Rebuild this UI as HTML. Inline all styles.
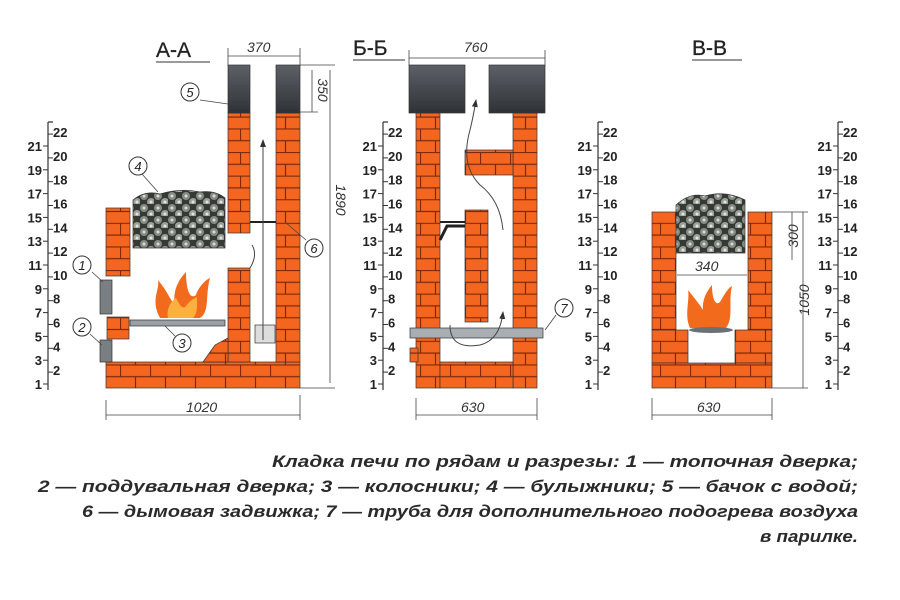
<!DOCTYPE html>
<html><head><meta charset="utf-8"><style>
html,body{margin:0;padding:0;background:#fff;width:900px;height:600px;overflow:hidden}
svg{display:block}
.n{font-family:"Liberation Sans Narrow","Liberation Sans",sans-serif;font-weight:bold;font-size:13px;fill:#222}
.d{font-family:"Liberation Sans",sans-serif;font-style:italic;font-size:14px;fill:#333}
.t{font-family:"Liberation Sans",sans-serif;font-size:21px;fill:#222;stroke:#222;stroke-width:0.3}
.c{font-family:"Liberation Sans Narrow","Liberation Sans",sans-serif;font-weight:bold;font-style:italic;font-size:17px;fill:#2a2a2a}
.l{font-family:"Liberation Sans",sans-serif;font-style:italic;font-size:13px;fill:#222}
</style></head><body>
<svg id="s" width="900" height="600" viewBox="0 0 900 600" xmlns="http://www.w3.org/2000/svg">
<defs>
<pattern id="br" width="30" height="23.6" patternUnits="userSpaceOnUse" patternTransform="translate(0,388)">
<rect width="30" height="23.6" fill="#f4661f"/>
<path d="M0 0.5H30M0 12.3H30M0.5 0V11.8M15.5 11.8V23.6" stroke="#7d2a0c" stroke-width="1.2"/>
</pattern>
<pattern id="st" width="14" height="12" patternUnits="userSpaceOnUse">
<rect width="14" height="12" fill="#353b34"/>
<circle cx="4" cy="4" r="4" fill="#858c83"/><circle cx="11" cy="10" r="4" fill="#9aa098"/>
<circle cx="4" cy="4" r="1.5" fill="#d8dcd6"/><circle cx="11" cy="10" r="1.5" fill="#e0e3de"/>
</pattern>
<linearGradient id="tk" x1="0" y1="0" x2="0" y2="1"><stop offset="0" stop-color="#5d6168"/><stop offset="1" stop-color="#2f3236"/></linearGradient>
<marker id="ar" markerWidth="8" markerHeight="8" refX="7" refY="4" orient="auto"><path d="M0 1L8 4L0 7z" fill="#333"/></marker>
</defs>
<g stroke="#333" stroke-width="0.7">
<rect x="106" y="208" width="24" height="68" fill="url(#br)"/>
<rect x="107" y="317" width="22" height="22" fill="url(#br)"/>
<rect x="106" y="362" width="194" height="26" fill="url(#br)"/>
<rect x="228" y="268" width="22" height="94" fill="url(#br)"/>
<path d="M203 362L215 345L228 338V362Z" fill="url(#br)"/>
<rect x="228" y="113" width="22" height="120" fill="url(#br)"/>
<rect x="276" y="113" width="24" height="249" fill="url(#br)"/>
<rect x="228" y="65" width="22" height="48" fill="url(#tk)"/>
<rect x="276" y="65" width="24" height="48" fill="url(#tk)"/>
<rect x="100" y="280" width="12" height="34" fill="#7a7f84"/>
<rect x="100" y="340" width="12" height="22" fill="#7a7f84"/>
<path d="M133 200Q145 190 160 194Q180 188 200 192Q215 190 225 198V248H133Z" fill="url(#st)"/>
<rect x="130" y="320" width="95" height="6" fill="#9aa0a6"/>
<rect x="255" y="325" width="20" height="18" fill="#ddd"/>
</g>
<path d="M250 222H276" stroke="#222" stroke-width="2"/>
<path d="M160 318C150 300 160 290 158 280C168 292 170 300 175 305C172 290 180 278 186 272C186 290 190 300 196 295C198 288 205 280 210 278C205 295 210 312 200 318Z" fill="#f26a1b"/>
<path d="M168 318C166 308 172 300 176 298C180 305 182 310 186 306C190 300 195 298 197 297C197 305 198 313 193 318Z" fill="#fbb040"/>
<path d="M263 340V140" stroke="#444" stroke-width="1" marker-end="url(#ar)" fill="none"/>
<path d="M250 268Q258 255 252 245" stroke="#444" fill="none"/>
<g stroke="#333" stroke-width="0.7">
<rect x="416" y="113" width="24" height="275" fill="url(#br)"/>
<rect x="410" y="348" width="8" height="14" fill="url(#br)"/>
<rect x="513" y="113" width="24" height="275" fill="url(#br)"/>
<rect x="465" y="150" width="48" height="25" fill="url(#br)"/>
<rect x="465" y="210" width="23" height="112" fill="url(#br)"/>
<rect x="440" y="362" width="73" height="26" fill="url(#br)"/>
<rect x="409" y="65" width="56" height="48" fill="url(#tk)"/>
<rect x="489" y="65" width="56" height="48" fill="url(#tk)"/>
<rect x="410" y="328" width="133" height="10" fill="#a9aeb2"/>
</g>
<path d="M440 222H465" stroke="#222" stroke-width="2"/>
<path d="M440 240L447 226H465" stroke="#222" stroke-width="3" fill="none"/>
<path d="M503 230Q500 200 480 185Q460 165 470 130Q473 118 476 100" stroke="#444" fill="none" marker-end="url(#ar)"/>
<path d="M450 325Q450 350 480 345Q500 340 503 312" stroke="#444" fill="none" marker-end="url(#ar)"/>
<g stroke="#333" stroke-width="0.7">
<path d="M676 205Q690 192 705 196Q725 190 745 200V253H676Z" fill="url(#st)"/>
<rect x="652" y="212" width="24" height="118" fill="url(#br)"/>
<rect x="748" y="212" width="24" height="118" fill="url(#br)"/>
<rect x="652" y="330" width="36" height="33" fill="url(#br)"/>
<rect x="735" y="330" width="37" height="33" fill="url(#br)"/>
<rect x="652" y="363" width="120" height="25" fill="url(#br)"/>
</g>
<path d="M690 328C684 315 690 300 688 290C696 300 700 305 703 310C702 298 708 290 712 285C712 300 716 306 720 302C724 295 728 288 732 286C728 302 734 318 726 328Z" fill="#f26a1b"/>
<ellipse cx="711" cy="330" rx="22" ry="3" fill="#6b7075"/>
<g stroke="#444" stroke-width="0.8" fill="none">
<path d="M228 56H300M228 48V66M300 48V66"/>
<path d="M106 415H300M106 400V420M300 395V420"/>
<path d="M330 70V383M300 65H335M300 388H335M312 70V112M300 112H318"/>
<path d="M409 58H545M409 50V66M545 50V66"/>
<path d="M416 415H537M416 398V420M537 398V420"/>
<path d="M652 415H772M652 398V420M772 398V420"/>
<path d="M677 275H747"/>
<path d="M803 212V388M772 212H808M772 388H808M792 212V260"/>
<path d="M285 222L306 240M200 100L228 104M142 174L158 192M92 272L103 282M90 334L102 345M175 336L165 326M545 330L556 315"/>
</g>
<text class="d" x="247" y="52">370</text>
<text class="d" x="186" y="412">1020</text>
<text class="d" x="464" y="52">760</text>
<text class="d" x="461" y="412">630</text>
<text class="d" x="697" y="412">630</text>
<text class="d" x="695" y="271">340</text>
<text class="d" transform="translate(318,90) rotate(90)" text-anchor="middle">350</text>
<text class="d" transform="translate(336,200) rotate(90)" text-anchor="middle">1890</text>
<text class="d" transform="translate(798,236) rotate(-90)" text-anchor="middle">300</text>
<text class="d" transform="translate(809,300) rotate(-90)" text-anchor="middle">1050</text>
<text class="t" x="156" y="57">А-А</text><path d="M156 62H210" stroke="#333"/>
<text class="t" x="353" y="55">Б-Б</text><path d="M353 60H405" stroke="#333"/>
<text class="t" x="692" y="55">В-В</text><path d="M692 60H742" stroke="#333"/>
<g fill="#fff" stroke="#333" stroke-width="1">
<circle cx="190" cy="92" r="9"/><circle cx="138" cy="166" r="9"/><circle cx="82" cy="265" r="9"/>
<circle cx="82" cy="327" r="9"/><circle cx="182" cy="343" r="9"/><circle cx="314" cy="248" r="9"/><circle cx="564" cy="308" r="9"/>
</g>
<g class="l" text-anchor="middle">
<text x="190" y="97">5</text><text x="138" y="171">4</text><text x="82" y="270">1</text><text x="82" y="332">2</text>
<text x="182" y="348">3</text><text x="314" y="253">6</text><text x="564" y="313">7</text></g>
<g id="sc"></g>
<text class="c" x="272" y="467" textLength="586" lengthAdjust="spacingAndGlyphs">Кладка печи по рядам и разрезы: 1 — топочная дверка;</text>
<text class="c" x="38" y="492" textLength="820" lengthAdjust="spacingAndGlyphs">2 — поддувальная дверка; 3 — колосники; 4 — булыжники; 5 — бачок с водой;</text>
<text class="c" x="82" y="517" textLength="776" lengthAdjust="spacingAndGlyphs">6 — дымовая задвижка; 7 — труба для дополнительного подогрева воздуха</text>
<text class="c" x="760" y="542" textLength="98" lengthAdjust="spacingAndGlyphs">в парилке.</text>
</svg>
<script>
var g=document.getElementById('sc'),h='';
[48,383,598,838].forEach(function(x){
h+='<path d="M'+x+' 122V390M'+x+' 122H'+(x+5)+'" stroke="#333" stroke-width="1.2"/>';
for(var i=1;i<=22;i++){var y=384-(i-1)*11.9;
if(i%2){h+='<path d="M'+(x-5)+' '+y+'H'+x+'" stroke="#333"/><text class="n" x="'+(x-6)+'" y="'+(y+5)+'" text-anchor="end">'+i+'</text>';}
else{h+='<path d="M'+x+' '+y+'H'+(x+5)+'" stroke="#333"/><text class="n" x="'+(x+5)+'" y="'+(y+3)+'">'+i+'</text>';}}
});
g.innerHTML=h;
</script>
</body></html>
